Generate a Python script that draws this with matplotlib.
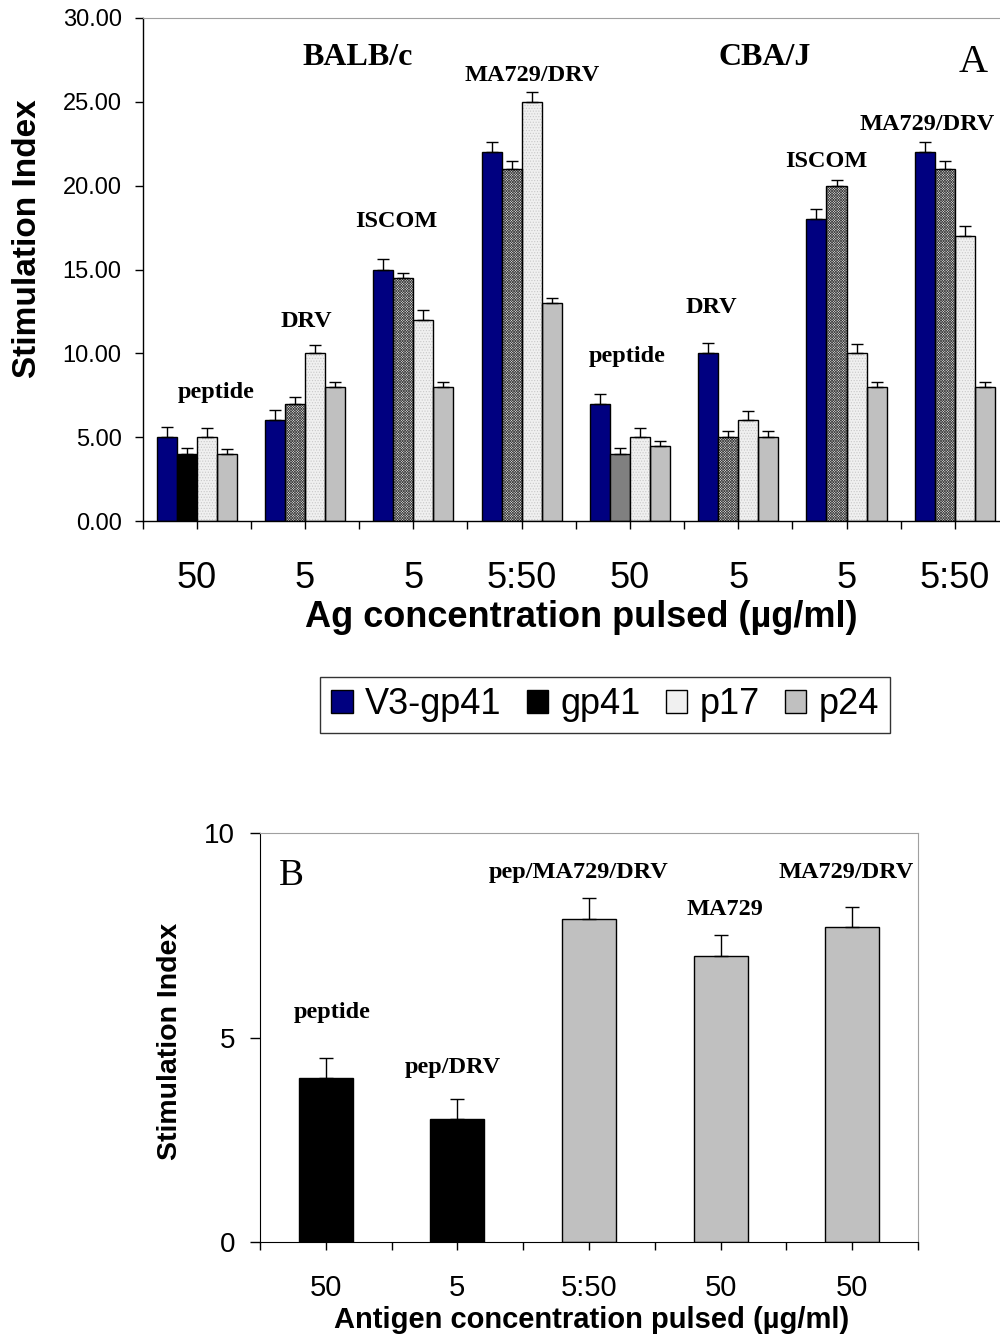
import numpy as np
import matplotlib
matplotlib.use("Agg")
import matplotlib.pyplot as plt
from matplotlib.patches import Patch

# ---------------- data ----------------
groups_A = ['50', '5', '5', '5:50', '50', '5', '5', '5:50']
series_names = ['V3-gp41', 'gp41', 'p17', 'p24']
v3 = [5, 6, 15, 22, 7, 10, 18, 22]
v3_err = [0.6, 0.6, 0.6, 0.6, 0.6, 0.6, 0.6, 0.6]
gp41 = [4, 7, 14.5, 21, 4, 5, 20, 21]
gp41_err = [0.35, 0.4, 0.3, 0.45, 0.35, 0.35, 0.35, 0.45]
p17 = [5, 10, 12, 25, 5, 6, 10, 17]
p17_err = [0.55, 0.5, 0.6, 0.6, 0.55, 0.55, 0.55, 0.6]
p24 = [4, 8, 8, 13, 4.5, 5, 8, 8]
p24_err = [0.3, 0.3, 0.3, 0.3, 0.3, 0.35, 0.3, 0.3]
labels_A = ['peptide', 'DRV', 'ISCOM', 'MA729/DRV', 'peptide', 'DRV', 'ISCOM', 'MA729/DRV']
strains = ['BALB/c', 'CBA/J']

groups_B = ['50', '5', '5:50', '50', '50']
vals_B = [4.0, 3.0, 7.9, 7.0, 7.7]
err_B = [0.5, 0.5, 0.5, 0.5, 0.5]
labels_B = ['peptide', 'pep/DRV', 'pep/MA729/DRV', 'MA729', 'MA729/DRV']

# ---------------- style ----------------
SANS = ['Liberation Sans', 'DejaVu Sans']
SERIF = ['Liberation Serif', 'DejaVu Serif']
plt.rcParams['font.family'] = SANS
plt.rcParams['hatch.linewidth'] = 0.5

W, H = 1000, 1343
fig = plt.figure(figsize=(W / 100, H / 100), dpi=100)


def fx(px):
    return px / W


def fy(py):
    return 1 - py / H


NAVY = '#000080'
P24C = '#c0c0c0'
P17C = '#f0f0f0'
GRID_GRAY = '#a0a0a0'

# ---------------- panel A ----------------
axA = fig.add_axes([fx(142.5), fy(521), fx(1009) - fx(142.5), (521 - 18) / H])
x = np.arange(len(groups_A))
bw = 0.185
offs = [-1.5 * bw, -0.5 * bw, 0.5 * bw, 1.5 * bw]

# V3-gp41
axA.bar(x + offs[0], v3, bw, color=NAVY, edgecolor='black', linewidth=1, zorder=2)
# gp41: per-group styles
for i in range(len(x)):
    if i == 0:
        axA.bar(x[i] + offs[1], gp41[i], bw, color='black', edgecolor='black', linewidth=1, zorder=2)
    elif i == 4:
        axA.bar(x[i] + offs[1], gp41[i], bw, color='#808080', edgecolor='black', linewidth=1, zorder=2)
    else:
        axA.bar(x[i] + offs[1], gp41[i], bw, color='#e4e4e4', edgecolor='#404040',
                hatch='x' * 13, linewidth=0, zorder=2)
        axA.bar(x[i] + offs[1], gp41[i], bw, fill=False, edgecolor='black', linewidth=1, zorder=2.1)
# p17 (dotted light)
axA.bar(x + offs[2], p17, bw, color=P17C, edgecolor='#c8c8c8', hatch='.' * 6, linewidth=0, zorder=2)
axA.bar(x + offs[2], p17, bw, fill=False, edgecolor='black', linewidth=1, zorder=2.1)
# p24
axA.bar(x + offs[3], p24, bw, color=P24C, edgecolor='black', linewidth=1, zorder=2)

for vals, errs, off in [(v3, v3_err, offs[0]), (gp41, gp41_err, offs[1]),
                        (p17, p17_err, offs[2]), (p24, p24_err, offs[3])]:
    axA.errorbar(x + off, vals, yerr=[np.zeros(len(errs)), errs], fmt='none',
                 ecolor='black', elinewidth=1, capsize=4.3, capthick=1, zorder=3)

axA.set_xlim(-0.5, len(groups_A) - 0.5)
axA.set_ylim(0, 30)
axA.set_yticks(np.arange(0, 31, 5))
axA.set_yticklabels([f'{v:.2f}' for v in np.arange(0, 31, 5)], fontsize=17)
axA.set_xticks(x)
axA.set_xticklabels(groups_A, fontsize=26)
axA.set_xticks(np.arange(-0.5, len(groups_A), 1.0), minor=True)
axA.tick_params(axis='x', which='both', direction='out', length=6, width=1, pad=23)
axA.tick_params(axis='y', direction='out', length=6, width=1, pad=9)
axA.spines['top'].set_color(GRID_GRAY)
axA.spines['right'].set_visible(False)
for s in ['left', 'bottom']:
    axA.spines[s].set_linewidth(1)

fig.text(fx(28), fy(239), 'Stimulation Index', rotation=90, ha='center', va='center',
         fontsize=24, fontweight='bold', family=SANS)
fig.text(fx(581), fy(627), 'Ag concentration pulsed (µg/ml)', ha='center', va='baseline',
         fontsize=26, fontweight='bold', family=SANS)

ann_pos_A = [(216, 398), (306, 327), (396, 227), (532, 81),
             (627, 362), (711, 313), (826, 167), (927, 130)]
for (px, py), t in zip(ann_pos_A, labels_A):
    fig.text(fx(px), fy(py), t, ha='center', va='baseline', fontsize=17.5,
             fontweight='bold', family=SERIF)
for (px, py), t in zip([(358, 65), (765, 65)], strains):
    fig.text(fx(px), fy(py), t, ha='center', va='baseline', fontsize=23,
             fontweight='bold', family=SERIF)
fig.text(fx(973), fy(72), 'A', ha='center', va='baseline', fontsize=29, family=SERIF)

# legend
handles = [Patch(facecolor=NAVY, edgecolor='black', linewidth=1),
           Patch(facecolor='black', edgecolor='black', linewidth=1),
           Patch(facecolor=P17C, edgecolor='black', linewidth=1),
           Patch(facecolor=P24C, edgecolor='black', linewidth=1)]
leg = fig.legend(handles, series_names, loc='center', bbox_to_anchor=(fx(605), fy(705)),
                 ncol=4, fontsize=26, frameon=True, fancybox=False, edgecolor='black',
                 handlelength=0.6, handleheight=0.6, handletextpad=0.33, columnspacing=0.7,
                 borderpad=0.3, borderaxespad=0)
leg.get_frame().set_linewidth(1)

# ---------------- panel B ----------------
axB = fig.add_axes([fx(260), fy(1242), fx(918) - fx(260), (1242 - 833) / H])
xb = np.arange(len(groups_B))
bwB = 0.41
colors_B = ['black', 'black', P24C, P24C, P24C]
axB.bar(xb, vals_B, bwB, color=colors_B, edgecolor='black', linewidth=1, zorder=2)
axB.errorbar(xb, vals_B, yerr=[np.zeros(len(err_B)), err_B], fmt='none', ecolor='black',
             elinewidth=1, capsize=4.7, capthick=1, zorder=3)
axB.set_xlim(-0.5, len(groups_B) - 0.5)
axB.set_ylim(0, 10)
axB.set_yticks([0, 5, 10])
axB.set_yticklabels(['0', '5', '10'], fontsize=20)
axB.set_xticks(xb)
axB.set_xticklabels(groups_B, fontsize=21)
axB.set_xticks(np.arange(-0.5, len(groups_B), 1.0), minor=True)
axB.tick_params(axis='x', which='both', direction='out', length=6, width=1, pad=17)
axB.tick_params(axis='y', direction='out', length=7, width=1, pad=11)
axB.spines['top'].set_color(GRID_GRAY)
axB.spines['right'].set_color(GRID_GRAY)

fig.text(fx(170), fy(1041), 'Stimulation Index', rotation=90, ha='center', va='center',
         fontsize=20.5, fontweight='bold', family=SANS)
fig.text(fx(592), fy(1328), 'Antigen concentration pulsed (µg/ml)', ha='center', va='baseline',
         fontsize=21, fontweight='bold', family=SANS)

ann_pos_B = [(332, 1018), (453, 1073), (579, 878), (725, 915), (846, 878)]
for (px, py), t in zip(ann_pos_B, labels_B):
    fig.text(fx(px), fy(py), t, ha='center', va='baseline', fontsize=17.5,
             fontweight='bold', family=SERIF)
fig.text(fx(291), fy(885), 'B', ha='center', va='baseline', fontsize=27, family=SERIF)

fig.savefig('out.png', dpi=100)
